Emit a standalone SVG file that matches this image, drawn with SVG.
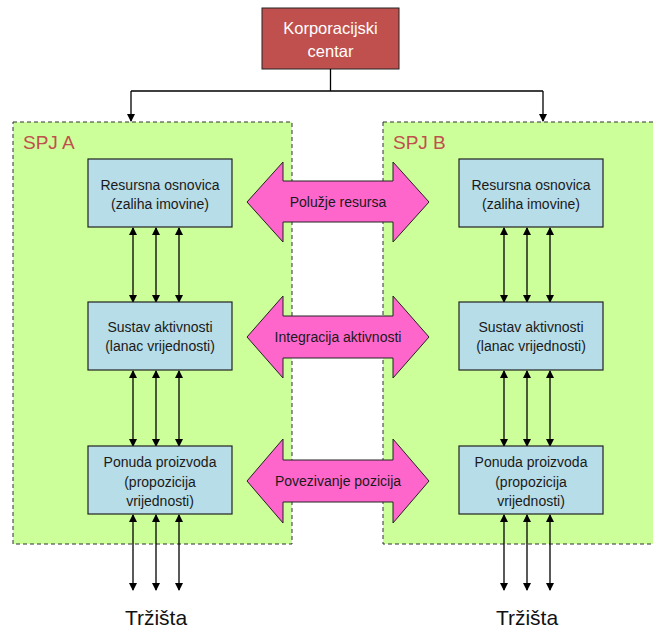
<svg xmlns="http://www.w3.org/2000/svg" width="653" height="631" viewBox="0 0 653 631">
<style>
.spj{fill:#CCFF99;stroke:#333;stroke-width:1;stroke-dasharray:4,3}
.blue{fill:#B7DDE8;stroke:#222;stroke-width:1.2}
.pink{fill:#FF66CC;stroke:#222;stroke-width:1}
.t{font-family:"Liberation Sans",Arial,sans-serif;font-size:14px;fill:#1a1a1a;text-anchor:middle}
.lbl{font-family:"Liberation Sans",Arial,sans-serif;font-size:19px;fill:#C0504D}
.mk{font-family:"Liberation Sans",Arial,sans-serif;font-size:21px;fill:#111;text-anchor:middle}
.ln{stroke:#000;stroke-width:1.3;fill:none}
</style>
<defs>
<marker id="ah" markerWidth="8" markerHeight="8" refX="7" refY="4" orient="auto-start-reverse" markerUnits="userSpaceOnUse">
<path d="M0,0 L8,4 L0,8 z" fill="#000"/>
</marker>
</defs>
<rect width="653" height="631" fill="#fff"/>
<g id="spjA"><rect class="spj" x="13" y="122" width="279" height="422"/><text class="lbl" x="23" y="149">SPJ A</text></g>
<g id="spjB"><rect class="spj" x="383" y="122" width="280" height="422"/><text class="lbl" x="393" y="149">SPJ B</text></g>
<g id="korp"><rect x="262" y="8" width="137" height="61" fill="#C0504D" stroke="#222" stroke-width="1"/>
<text class="t" x="330.5" y="34" style="fill:#fff;font-size:16.5px">Korporacijski</text>
<text class="t" x="330.5" y="57" style="fill:#fff;font-size:16.5px">centar</text></g>
<g id="connectors">
<path class="ln" d="M330.5,69 V91 M131,91 H543"/>
<path class="ln" d="M131,91 V121" marker-end="url(#ah)"/>
<path class="ln" d="M543,91 V121" marker-end="url(#ah)"/>
<g marker-start="url(#ah)" marker-end="url(#ah)">
<path class="ln" d="M133,228 V302"/><path class="ln" d="M156,228 V302"/><path class="ln" d="M179,228 V302"/>
<path class="ln" d="M133,371 V446"/><path class="ln" d="M156,371 V446"/><path class="ln" d="M179,371 V446"/>
<path class="ln" d="M133,515 V590"/><path class="ln" d="M156,515 V590"/><path class="ln" d="M179,515 V590"/>
<path class="ln" d="M504,228 V302"/><path class="ln" d="M527,228 V302"/><path class="ln" d="M550,228 V302"/>
<path class="ln" d="M504,371 V446"/><path class="ln" d="M527,371 V446"/><path class="ln" d="M550,371 V446"/>
<path class="ln" d="M504,515 V590"/><path class="ln" d="M527,515 V590"/><path class="ln" d="M550,515 V590"/>
</g>
</g>
<g id="resA"><rect class="blue" x="88" y="159" width="144" height="68"/><text class="t" x="160" y="190">Resursna osnovica</text><text class="t" x="160" y="209">(zaliha imovine)</text></g>
<g id="susA"><rect class="blue" x="88" y="302" width="144" height="68"/><text class="t" x="160" y="332">Sustav aktivnosti</text><text class="t" x="160" y="351">(lanac vrijednosti)</text></g>
<g id="ponA"><rect class="blue" x="88" y="446" width="144" height="68"/><text class="t" x="160" y="467">Ponuda proizvoda</text><text class="t" x="160" y="487">(propozicija</text><text class="t" x="160" y="506">vrijednosti)</text></g>
<g id="resB"><rect class="blue" x="459" y="159" width="144" height="68"/><text class="t" x="531" y="190">Resursna osnovica</text><text class="t" x="531" y="209">(zaliha imovine)</text></g>
<g id="susB"><rect class="blue" x="459" y="302" width="144" height="68"/><text class="t" x="531" y="332">Sustav aktivnosti</text><text class="t" x="531" y="351">(lanac vrijednosti)</text></g>
<g id="ponB"><rect class="blue" x="459" y="446" width="144" height="68"/><text class="t" x="531" y="467">Ponuda proizvoda</text><text class="t" x="531" y="487">(propozicija</text><text class="t" x="531" y="506">vrijednosti)</text></g>
<g id="arr1"><path class="pink" d="M247,202 L283,162 V181 H393 V162 L429,202 L393,242 V222 H283 V242 Z"/><text class="t" x="338" y="207">Polužje resursa</text></g>
<g id="arr2"><path class="pink" d="M247,337 L283,296 V316 H393 V296 L429,337 L393,378 V358 H283 V378 Z"/><text class="t" x="338" y="342">Integracija aktivnosti</text></g>
<g id="arr3"><path class="pink" d="M247,481 L283,439 V460 H393 V439 L429,481 L393,523 V502 H283 V523 Z"/><text class="t" x="338" y="486">Povezivanje pozicija</text></g>
<g id="trzA"><text class="mk" x="156" y="625">Tržišta</text></g>
<g id="trzB"><text class="mk" x="527" y="625">Tržišta</text></g>
</svg>
